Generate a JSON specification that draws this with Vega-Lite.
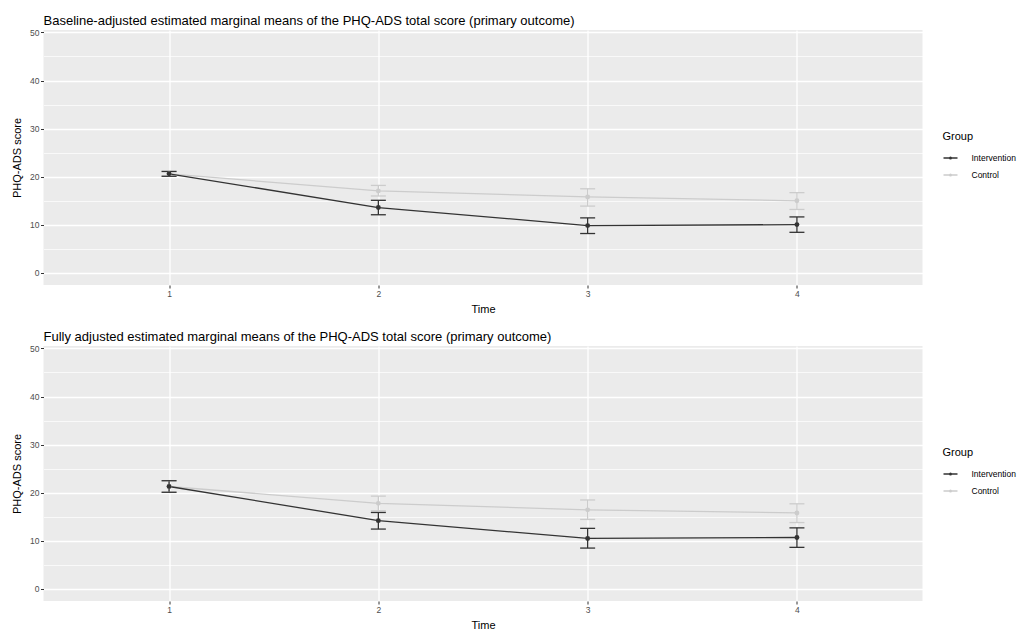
{
  "$schema": "https://vega.github.io/schema/vega-lite/v6.json",
  "background": "white",
  "padding": {"left": 11.5, "top": 15, "right": 5, "bottom": 0},
  "data": {
    "values": [
      {"model": "baseline", "group": "Control", "time": 1, "mean": 20.6, "lo": 20.1, "hi": 21.1},
      {"model": "baseline", "group": "Control", "time": 2, "mean": 17.05, "lo": 16.0, "hi": 18.2},
      {"model": "baseline", "group": "Control", "time": 3, "mean": 15.8, "lo": 13.9, "hi": 17.5},
      {"model": "baseline", "group": "Control", "time": 4, "mean": 15.0, "lo": 13.2, "hi": 16.7},
      {"model": "baseline", "group": "Intervention", "time": 1, "mean": 20.6, "lo": 20.1, "hi": 21.1},
      {"model": "baseline", "group": "Intervention", "time": 2, "mean": 13.6, "lo": 12.1, "hi": 15.1},
      {"model": "baseline", "group": "Intervention", "time": 3, "mean": 9.85, "lo": 8.2, "hi": 11.45},
      {"model": "baseline", "group": "Intervention", "time": 4, "mean": 10.05, "lo": 8.45, "hi": 11.65},
      {"model": "full", "group": "Control", "time": 1, "mean": 21.3, "lo": 20.1, "hi": 22.5},
      {"model": "full", "group": "Control", "time": 2, "mean": 17.8, "lo": 16.25, "hi": 19.3},
      {"model": "full", "group": "Control", "time": 3, "mean": 16.45, "lo": 14.45, "hi": 18.5},
      {"model": "full", "group": "Control", "time": 4, "mean": 15.8, "lo": 13.8, "hi": 17.7},
      {"model": "full", "group": "Intervention", "time": 1, "mean": 21.3, "lo": 20.1, "hi": 22.5},
      {"model": "full", "group": "Intervention", "time": 2, "mean": 14.2, "lo": 12.45, "hi": 15.9},
      {"model": "full", "group": "Intervention", "time": 3, "mean": 10.5, "lo": 8.5, "hi": 12.6},
      {"model": "full", "group": "Intervention", "time": 4, "mean": 10.7, "lo": 8.65, "hi": 12.7}
    ]
  },
  "vconcat": [
    {
      "width": 879, "height": 255,
      "title": {"text": "Baseline-adjusted estimated marginal means of the PHQ-ADS total score (primary outcome)", "anchor": "start", "frame": "group", "fontSize": 13, "fontWeight": "normal", "color": "#000000", "offset": 0},
      "transform": [{"filter": "datum.model === 'baseline'"}],
      "layer": [
        {
          "mark": {"type": "point", "opacity": 0},
          "encoding": {
            "y": {"field": "mean", "type": "quantitative", "scale": {"domain": [-2.5, 50.5], "nice": false, "zero": false},
                  "axis": {"orient": "right", "values": [5, 15, 25, 35, 45], "grid": true, "gridWidth": 0.7, "labels": false, "ticks": false, "domain": false, "title": null}}
          }
        },
        {
          "encoding": {
            "x": {"field": "time", "type": "quantitative", "scale": {"domain": [0.4, 4.6], "nice": false, "zero": false},
                  "axis": {"values": [1, 2, 3, 4], "format": "d", "title": "Time", "grid": true, "titlePadding": 5}},
            "color": {"field": "group", "type": "nominal", "scale": {"domain": ["Intervention", "Control"], "range": ["#333333", "#CCCCCC"]},
                      "legend": {"title": "Group", "orient": "none", "legendX": 899, "legendY": 101}}
          },
          "layer": [
            {"mark": {"type": "line", "strokeWidth": 1.3},
             "encoding": {"y": {"field": "mean", "type": "quantitative", "scale": {"domain": [-2.5, 50.5], "nice": false, "zero": false},
                                "axis": {"orient": "left", "values": [0, 10, 20, 30, 40, 50], "grid": true, "title": "PHQ-ADS score", "titlePadding": 7}}}},
            {"mark": {"type": "rule", "strokeWidth": 1.3},
             "encoding": {"y": {"field": "lo", "type": "quantitative", "title": "PHQ-ADS score"}, "y2": {"field": "hi"}}},
            {"mark": {"type": "rule", "strokeWidth": 1.3, "xOffset": -7.5, "x2Offset": 7.5},
             "encoding": {"x2": {"field": "time"}, "y": {"field": "lo", "type": "quantitative", "title": "PHQ-ADS score"}}},
            {"mark": {"type": "rule", "strokeWidth": 1.3, "xOffset": -7.5, "x2Offset": 7.5},
             "encoding": {"x2": {"field": "time"}, "y": {"field": "hi", "type": "quantitative", "title": "PHQ-ADS score"}}},
            {"mark": {"type": "point", "filled": true, "size": 24, "opacity": 1, "strokeWidth": 0},
             "encoding": {"y": {"field": "mean", "type": "quantitative", "title": "PHQ-ADS score"}}}
          ]
        }
      ],
      "resolve": {"axis": {"y": "independent"}}
    },
    {
      "width": 879, "height": 255,
      "title": {"text": "Fully adjusted estimated marginal means of the PHQ-ADS total score (primary outcome)", "anchor": "start", "frame": "group", "fontSize": 13, "fontWeight": "normal", "color": "#000000", "offset": 0},
      "transform": [{"filter": "datum.model === 'full'"}],
      "layer": [
        {
          "mark": {"type": "point", "opacity": 0},
          "encoding": {
            "y": {"field": "mean", "type": "quantitative", "scale": {"domain": [-2.5, 50.5], "nice": false, "zero": false},
                  "axis": {"orient": "right", "values": [5, 15, 25, 35, 45], "grid": true, "gridWidth": 0.7, "labels": false, "ticks": false, "domain": false, "title": null}}
          }
        },
        {
          "encoding": {
            "x": {"field": "time", "type": "quantitative", "scale": {"domain": [0.4, 4.6], "nice": false, "zero": false},
                  "axis": {"values": [1, 2, 3, 4], "format": "d", "title": "Time", "grid": true, "titlePadding": 5}},
            "color": {"field": "group", "type": "nominal", "scale": {"domain": ["Intervention", "Control"], "range": ["#333333", "#CCCCCC"]},
                      "legend": {"title": "Group", "orient": "none", "legendX": 899, "legendY": 101}}
          },
          "layer": [
            {"mark": {"type": "line", "strokeWidth": 1.3},
             "encoding": {"y": {"field": "mean", "type": "quantitative", "scale": {"domain": [-2.5, 50.5], "nice": false, "zero": false},
                                "axis": {"orient": "left", "values": [0, 10, 20, 30, 40, 50], "grid": true, "title": "PHQ-ADS score", "titlePadding": 7}}}},
            {"mark": {"type": "rule", "strokeWidth": 1.3},
             "encoding": {"y": {"field": "lo", "type": "quantitative", "title": "PHQ-ADS score"}, "y2": {"field": "hi"}}},
            {"mark": {"type": "rule", "strokeWidth": 1.3, "xOffset": -7.5, "x2Offset": 7.5},
             "encoding": {"x2": {"field": "time"}, "y": {"field": "lo", "type": "quantitative", "title": "PHQ-ADS score"}}},
            {"mark": {"type": "rule", "strokeWidth": 1.3, "xOffset": -7.5, "x2Offset": 7.5},
             "encoding": {"x2": {"field": "time"}, "y": {"field": "hi", "type": "quantitative", "title": "PHQ-ADS score"}}},
            {"mark": {"type": "point", "filled": true, "size": 24, "opacity": 1, "strokeWidth": 0},
             "encoding": {"y": {"field": "mean", "type": "quantitative", "title": "PHQ-ADS score"}}}
          ]
        }
      ],
      "resolve": {"axis": {"y": "independent"}}
    }
  ],
  "spacing": 17,
  "resolve": {"scale": {"color": "independent"}, "legend": {"color": "independent"}},
  "config": {
    "font": "Liberation Sans",
    "view": {"fill": "#EBEBEB", "stroke": null},
    "axis": {"domain": false, "tickColor": "#333333", "tickSize": 3, "tickWidth": 1, "labelColor": "#4D4D4D", "labelFontSize": 8.5, "labelPadding": 1.5, "titleFontSize": 11, "titleFontWeight": "normal", "titleColor": "#000000", "gridColor": "#FFFFFF", "gridWidth": 1.3},
    "legend": {"symbolType": "M-1,0H1M-0.1,0A0.1,0.1 0 1,0 0.1,0A0.1,0.1 0 1,0 -0.1,0M-0.05,0A0.05,0.05 0 1,0 0.05,0A0.05,0.05 0 1,0 -0.05,0", "symbolSize": 196, "symbolStrokeWidth": 1.6, "symbolOpacity": 1, "labelFontSize": 8.5, "labelColor": "#000000", "labelOffset": 13, "titleFontSize": 11, "titleFontWeight": "normal", "titleColor": "#000000", "titlePadding": 8, "rowPadding": 4, "padding": 0}
  }
}
